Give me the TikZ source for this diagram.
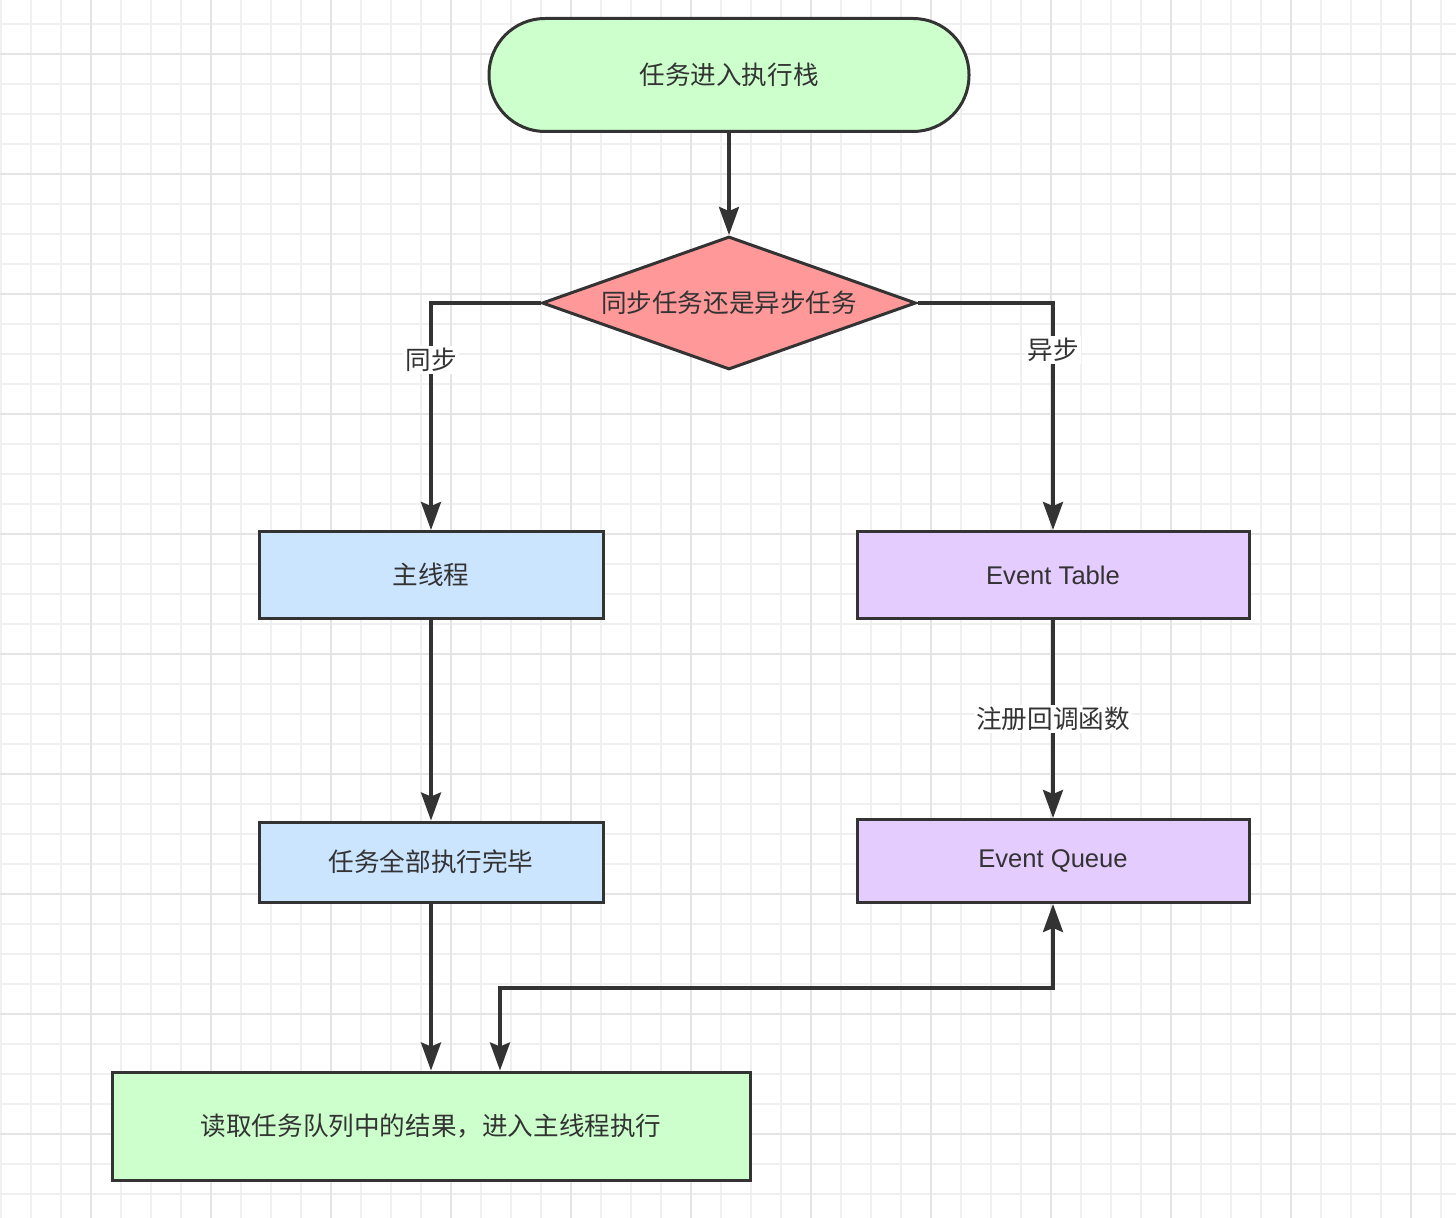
\documentclass[tikz,border=0pt]{standalone}
\usepackage{fontspec}
\setmainfont{Liberation Sans}
\newfontfamily\cjk{Noto Sans CJK SC}
\usepackage{xcolor}
\usepackage{tikz}
\usetikzlibrary{arrows.meta}
\usetikzlibrary{positioning}
\usetikzlibrary{shapes.geometric}

\definecolor{edgegray}{HTML}{333333}
\definecolor{startgreen}{HTML}{CCFFCC}
\definecolor{decidered}{HTML}{FF9999}
\definecolor{syncblue}{HTML}{CCE5FF}
\definecolor{asyncpurple}{HTML}{E5CCFF}
\definecolor{gridminor}{HTML}{F0F0F0}
\definecolor{gridmajor}{HTML}{E4E4E4}

\begin{document}
\begin{tikzpicture}[x=0.5pt, y=-0.5pt,
        box/.style={rectangle, draw=edgegray, line width=1.5pt, text=edgegray, inner sep=0pt, font=\cjk\fontsize{12.8}{15}\selectfont},
        terminal/.style={box, rounded corners=28pt, fill=startgreen, minimum width=240pt, minimum height=56.5pt},
        decision/.style={box, diamond, aspect=2.8, fill=decidered, minimum width=187pt, minimum height=66.5pt},
        syncbox/.style={box, fill=syncblue, minimum width=172pt},
        asyncbox/.style={box, fill=asyncpurple, minimum width=196pt, font=\normalfont\fontsize{12.8}{15}\selectfont},
        arrow/.style={-{Stealth[length=14pt, width=10pt, inset=2pt]}, line width=1.75pt, draw=edgegray},
        arrowboth/.style={{Stealth[length=14pt, width=10pt, inset=2pt]}-{Stealth[length=14pt, width=10pt, inset=2pt]}, line width=1.75pt, draw=edgegray},
        edgelabel/.style={fill=white, text=edgegray, inner sep=1pt, font=\cjk\fontsize{12.8}{15}\selectfont}
    ]

    \useasboundingbox (0,0) rectangle (1456,1218);

    % Grid
    \fill[white] (0,0) rectangle (1456,1218);
    \foreach \gx in {1,31,...,1441} \draw[gridminor, line width=1pt] (\gx,0) -- (\gx,1218);
    \foreach \gy in {24,54,...,1194} \draw[gridminor, line width=1pt] (0,\gy) -- (1456,\gy);
    \foreach \gx in {91,211,...,1411} \draw[gridmajor, line width=1.2pt] (\gx,0) -- (\gx,1218);
    \foreach \gy in {54,174,...,1134} \draw[gridmajor, line width=1.2pt] (0,\gy) -- (1456,\gy);

    % Start and decision
    \node[terminal] (start) at (729,75) {任务进入执行栈};
    \node[decision] (decide) at (729,303) {同步任务还是异步任务};

    % Sync side
    \node[syncbox, minimum height=43.5pt] (mainthread) at (431,575) {主线程};
    \node[syncbox, minimum height=40pt] (alldone) at (431,862) {任务全部执行完毕};

    % Async side
    \node[asyncbox, minimum height=43.5pt] (eventtable) at (1053,575) {Event Table};
    \node[asyncbox, minimum height=41.5pt] (eventqueue) at (1053,861) {Event Queue};

    % End
    \node[box, fill=startgreen, minimum width=319pt, minimum height=54pt] (readresult) at (431,1126) {读取任务队列中的结果，进入主线程执行};
    \coordinate (loopback) at (776,988);

    % Connections
    \draw[arrow] (start) -- (decide);
    \draw[arrow] (decide.west) -| node[edgelabel, pos=0.625] {同步} (mainthread.north);
    \draw[arrow] (decide.east) -| node[edgelabel, pos=0.603] {异步} (eventtable.north);
    \draw[arrow] (eventtable) -- node[edgelabel] {注册回调函数} (eventqueue);
    \draw[arrow] (mainthread) -- (alldone);
    \draw[arrow] (alldone) -- (readresult);
    \draw[arrowboth] ([xshift=34.5pt]readresult.north) |- (loopback) -| (eventqueue.south);

\end{tikzpicture}
\end{document}
